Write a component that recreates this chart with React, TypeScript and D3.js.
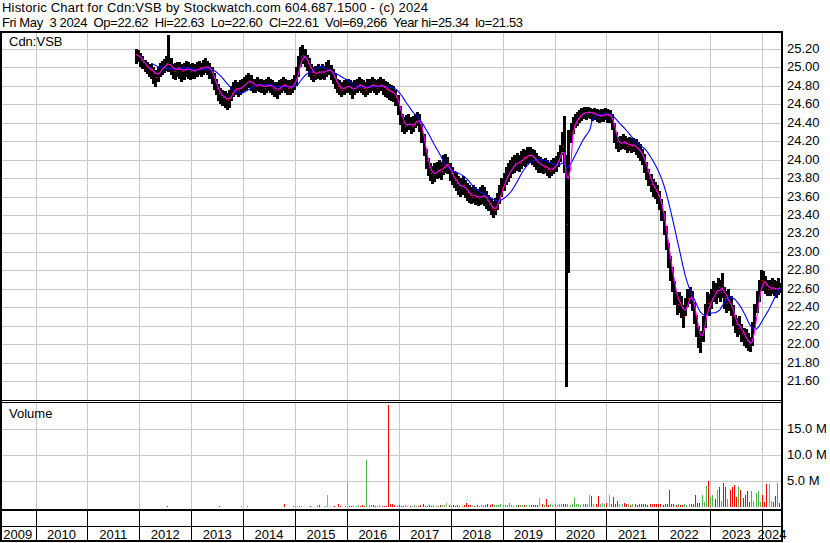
import React from "react";
import * as d3 from "d3";

const FONT = '"Liberation Sans", Arial, Helvetica, sans-serif';

const title1 = "Historic Chart for Cdn:VSB by Stockwatch.com 604.687.1500 - (c) 2024";
const title2 = "Fri May  3 2024  Op=22.62  Hi=22.63  Lo=22.60  Cl=22.61  Vol=69,266  Year hi=25.34  lo=21.53";
const symbolLabel = "Cdn:VSB";
const volumeLabel = "Volume";

const yearLabels = [2009, 2010, 2011, 2012, 2013, 2014, 2015, 2016, 2017, 2018, 2019, 2020, 2021, 2022, 2023, 2024];
const priceTicks = [25.2, 25.0, 24.8, 24.6, 24.4, 24.2, 24.0, 23.8, 23.6, 23.4, 23.2, 23.0, 22.8, 22.6, 22.4, 22.2, 22.0, 21.8, 21.6];
const volumeTicks = [5, 10, 15];

// semi-monthly bars: [close, high, low]; 2011 starts at the Dec 1 slot
const bars2011 = [[25.14, 25.2, 25.04], [25.12, 25.19, 25.06]];
const bars2012 = [
  [25.08, 25.16, 25.0], [25.06, 25.12, 24.98], [25.02, 25.08, 24.95], [25.0, 25.06, 24.93],
  [24.97, 25.04, 24.9], [24.98, 25.04, 24.88], [24.94, 25.0, 24.82], [24.9, 24.97, 24.79],
  [24.94, 25.0, 24.84], [24.98, 25.05, 24.9], [25.0, 25.07, 24.92], [25.02, 25.09, 24.94],
  [25.05, 25.12, 24.96], [25.04, 25.35, 24.95], [25.0, 25.1, 24.92], [24.96, 25.04, 24.88],
  [24.98, 25.05, 24.86], [25.0, 25.06, 24.9], [24.98, 25.06, 24.88], [24.96, 25.04, 24.84],
  [24.97, 25.05, 24.86], [25.0, 25.07, 24.9], [24.98, 25.06, 24.88], [24.96, 25.04, 24.86],
];
const bars2013 = [
  [24.97, 25.05, 24.88], [24.96, 25.04, 24.88], [24.98, 25.06, 24.9], [25.0, 25.07, 24.92],
  [24.98, 25.05, 24.9], [25.0, 25.08, 24.92], [25.02, 25.1, 24.94], [25.0, 25.07, 24.92],
  [24.98, 25.05, 24.88], [24.92, 25.0, 24.82], [24.85, 24.94, 24.76], [24.78, 24.88, 24.7],
  [24.72, 24.82, 24.64], [24.7, 24.78, 24.6], [24.68, 24.76, 24.58], [24.66, 24.74, 24.56],
  [24.65, 24.72, 24.54], [24.67, 24.76, 24.56], [24.72, 24.8, 24.64], [24.76, 24.84, 24.68],
  [24.78, 24.86, 24.7], [24.76, 24.84, 24.68], [24.78, 24.86, 24.7], [24.8, 24.88, 24.72],
];
const bars2014 = [
  [24.82, 24.9, 24.74], [24.84, 24.92, 24.76], [24.86, 24.94, 24.78], [24.84, 24.92, 24.74],
  [24.8, 24.88, 24.72], [24.8, 24.88, 24.72], [24.82, 24.9, 24.74], [24.81, 24.88, 24.73],
  [24.8, 24.88, 24.72], [24.78, 24.86, 24.7], [24.8, 24.88, 24.72], [24.82, 24.9, 24.74],
  [24.8, 24.88, 24.72], [24.78, 24.86, 24.7], [24.76, 24.84, 24.68], [24.76, 24.84, 24.66],
  [24.78, 24.86, 24.7], [24.8, 24.88, 24.72], [24.82, 24.9, 24.74], [24.8, 24.88, 24.72],
  [24.78, 24.86, 24.7], [24.78, 24.86, 24.7], [24.8, 24.88, 24.72], [24.84, 24.92, 24.76],
];
const bars2015 = [
  [24.9, 25.0, 24.8], [25.02, 25.12, 24.9], [25.12, 25.22, 25.0], [25.14, 25.24, 25.04],
  [25.1, 25.2, 25.0], [25.05, 25.14, 24.96], [25.0, 25.1, 24.9], [24.95, 25.04, 24.86],
  [24.92, 25.0, 24.84], [24.94, 25.02, 24.86], [24.96, 25.04, 24.88], [24.94, 25.02, 24.86],
  [24.96, 25.04, 24.88], [24.94, 25.02, 24.86], [24.98, 25.06, 24.9], [24.98, 25.08, 24.92],
  [24.95, 25.03, 24.86], [24.9, 24.98, 24.82], [24.85, 24.94, 24.77], [24.8, 24.88, 24.72],
  [24.78, 24.86, 24.7], [24.76, 24.84, 24.68], [24.78, 24.86, 24.7], [24.8, 24.88, 24.72],
];
const bars2016 = [
  [24.8, 24.88, 24.72], [24.78, 24.86, 24.7], [24.75, 24.84, 24.66], [24.78, 24.86, 24.7],
  [24.8, 24.88, 24.72], [24.82, 24.9, 24.74], [24.8, 24.88, 24.72], [24.78, 24.86, 24.7],
  [24.76, 24.84, 24.68], [24.79, 24.87, 24.7], [24.8, 24.88, 24.72], [24.82, 24.9, 24.74],
  [24.8, 24.88, 24.72], [24.78, 24.86, 24.7], [24.8, 24.88, 24.72], [24.82, 24.9, 24.74],
  [24.79, 24.87, 24.7], [24.77, 24.85, 24.68], [24.76, 24.84, 24.67], [24.74, 24.82, 24.65],
  [24.73, 24.81, 24.64], [24.72, 24.8, 24.62], [24.68, 24.76, 24.58], [24.6, 24.7, 24.48],
];
const bars2017 = [
  [24.48, 24.58, 24.38], [24.4, 24.5, 24.3], [24.36, 24.46, 24.28], [24.38, 24.48, 24.3],
  [24.4, 24.5, 24.32], [24.36, 24.46, 24.28], [24.38, 24.47, 24.3], [24.42, 24.5, 24.34],
  [24.45, 24.52, 24.36], [24.4, 24.5, 24.3], [24.3, 24.4, 24.18], [24.15, 24.28, 24.04],
  [24.0, 24.12, 23.9], [23.92, 24.02, 23.82], [23.86, 23.96, 23.77], [23.83, 23.93, 23.74],
  [23.86, 23.96, 23.76], [23.88, 23.98, 23.79], [23.9, 24.0, 23.8], [23.88, 23.98, 23.78],
  [23.93, 24.05, 23.83], [23.95, 24.06, 23.85], [23.95, 24.03, 23.84], [23.86, 23.96, 23.77],
];
const bars2018 = [
  [23.82, 23.92, 23.72], [23.78, 23.88, 23.69], [23.75, 23.85, 23.66], [23.72, 23.82, 23.62],
  [23.7, 23.8, 23.6], [23.72, 23.82, 23.62], [23.68, 23.78, 23.58], [23.65, 23.75, 23.55],
  [23.62, 23.72, 23.53], [23.6, 23.7, 23.52], [23.62, 23.72, 23.53], [23.6, 23.7, 23.51],
  [23.58, 23.68, 23.5], [23.6, 23.7, 23.51], [23.62, 23.72, 23.52], [23.6, 23.7, 23.5],
  [23.56, 23.66, 23.47], [23.52, 23.62, 23.44], [23.48, 23.58, 23.4], [23.45, 23.55, 23.37],
  [23.48, 23.58, 23.4], [23.55, 23.64, 23.45], [23.62, 23.72, 23.52], [23.7, 23.8, 23.6],
];
const bars2019 = [
  [23.76, 23.86, 23.66], [23.82, 23.92, 23.72], [23.86, 23.96, 23.76], [23.9, 24.0, 23.8],
  [23.93, 24.03, 23.84], [23.96, 24.05, 23.86], [23.98, 24.07, 23.88], [23.96, 24.05, 23.87],
  [24.0, 24.09, 23.9], [24.03, 24.12, 23.93], [24.02, 24.11, 23.92], [24.05, 24.14, 23.95],
  [24.06, 24.14, 23.96], [24.03, 24.12, 23.94], [24.0, 24.1, 23.92], [23.98, 24.07, 23.89],
  [23.95, 24.04, 23.86], [23.95, 24.03, 23.86], [23.92, 24.01, 23.84], [23.93, 24.02, 23.85],
  [23.9, 24.0, 23.82], [23.88, 23.98, 23.8], [23.9, 24.0, 23.82], [23.92, 24.02, 23.84],
];
const bars2020 = [
  [23.95, 24.04, 23.87], [24.0, 24.08, 23.92], [24.08, 24.16, 23.98], [24.15, 24.3, 24.05],
  [24.0, 24.47, 23.85], [23.3, 24.05, 21.53], [24.1, 24.32, 22.77], [24.3, 24.4, 24.18],
  [24.38, 24.46, 24.28], [24.42, 24.5, 24.34], [24.45, 24.52, 24.37], [24.48, 24.54, 24.4],
  [24.5, 24.56, 24.42], [24.52, 24.57, 24.44], [24.5, 24.57, 24.43], [24.52, 24.57, 24.45],
  [24.52, 24.56, 24.44], [24.49, 24.55, 24.42], [24.5, 24.56, 24.43], [24.48, 24.55, 24.41],
  [24.47, 24.54, 24.4], [24.48, 24.55, 24.41], [24.48, 24.55, 24.41], [24.5, 24.56, 24.43],
];
const bars2021 = [
  [24.48, 24.55, 24.4], [24.48, 24.54, 24.4], [24.42, 24.5, 24.32], [24.3, 24.4, 24.18],
  [24.2, 24.3, 24.12], [24.16, 24.25, 24.08], [24.18, 24.26, 24.1], [24.2, 24.28, 24.12],
  [24.18, 24.26, 24.1], [24.15, 24.23, 24.07], [24.17, 24.25, 24.09], [24.15, 24.23, 24.07],
  [24.16, 24.24, 24.08], [24.13, 24.22, 24.05], [24.1, 24.19, 24.02], [24.08, 24.17, 23.99],
  [24.03, 24.12, 23.94], [23.96, 24.06, 23.86], [23.88, 23.98, 23.78], [23.8, 23.9, 23.71],
  [23.74, 23.84, 23.65], [23.7, 23.79, 23.6], [23.66, 23.76, 23.57], [23.62, 23.72, 23.52],
];
const bars2022 = [
  [23.55, 23.66, 23.45], [23.45, 23.57, 23.34], [23.3, 23.44, 23.18], [23.15, 23.28, 23.02],
  [22.95, 23.1, 22.82], [22.82, 22.96, 22.68], [22.7, 22.84, 22.56], [22.55, 22.68, 22.42],
  [22.44, 22.56, 22.32], [22.46, 22.56, 22.34], [22.4, 22.52, 22.28], [22.3, 22.42, 22.18],
  [22.4, 22.5, 22.3], [22.5, 22.6, 22.4], [22.54, 22.62, 22.44], [22.48, 22.58, 22.36],
  [22.34, 22.46, 22.22], [22.2, 22.32, 22.08], [22.08, 22.2, 21.96], [22.02, 22.14, 21.9],
  [22.18, 22.3, 22.02], [22.32, 22.44, 22.18], [22.45, 22.56, 22.32], [22.4, 22.54, 22.3],
];
const bars2023 = [
  [22.5, 22.6, 22.38], [22.58, 22.68, 22.46], [22.55, 22.66, 22.44], [22.62, 22.72, 22.5],
  [22.56, 22.7, 22.46], [22.65, 22.77, 22.5], [22.5, 22.62, 22.38], [22.45, 22.58, 22.34],
  [22.48, 22.6, 22.36], [22.4, 22.52, 22.3], [22.3, 22.42, 22.2], [22.22, 22.32, 22.12],
  [22.18, 22.28, 22.08], [22.2, 22.3, 22.1], [22.12, 22.22, 22.02], [22.08, 22.18, 21.98],
  [22.05, 22.16, 21.96], [22.0, 22.12, 21.92], [21.98, 22.08, 21.91], [22.1, 22.24, 21.98],
  [22.3, 22.44, 22.18], [22.45, 22.58, 22.34], [22.58, 22.7, 22.46], [22.7, 22.8, 22.58],
];
const bars2024 = [
  [22.68, 22.79, 22.58], [22.64, 22.74, 22.54], [22.6, 22.7, 22.52], [22.6, 22.69, 22.52],
  [22.62, 22.72, 22.54], [22.6, 22.7, 22.52], [22.58, 22.68, 22.5], [22.62, 22.72, 22.53],
  [22.61, 22.66, 22.55],
];

// semi-monthly volume, millions of units
const vol2011 = [0.02, 0.02];
const vol2012 = [0.02, 0.01, 0.02, 0.02, 0.01, 0.02, 0.03, 0.02, 0.01, 0.02, 0.02, 0.01, 0.02, 0.25, 0.02, 0.01, 0.02, 0.02, 0.01, 0.02, 0.02, 0.01, 0.02, 0.02];
const vol2013 = [0.02, 0.01, 0.02, 0.02, 0.01, 0.02, 0.02, 0.01, 0.02, 0.03, 0.02, 0.01, 0.02, 0.12, 0.02, 0.01, 0.02, 0.02, 0.01, 0.02, 0.02, 0.02, 0.03, 0.12];
const vol2014 = [0.03, 0.02, 0.1, 0.03, 0.02, 0.03, 0.05, 0.02, 0.03, 0.04, 0.02, 0.03, 0.05, 0.03, 0.02, 0.04, 0.03, 0.05, 0.03, 0.5, 0.04, 0.03, 0.05, 0.1];
const vol2015 = [0.15, 0.1, 0.12, 0.15, 0.05, 0.08, 0.06, 0.1, 0.05, 0.08, 0.1, 0.45, 0.06, 0.08, 0.1, 2.3, 0.05, 0.08, 0.1, 0.06, 0.6, 0.1, 0.08, 0.12];
const vol2016 = [4.9, 0.1, 0.15, 0.1, 0.12, 0.3, 0.25, 0.3, 0.2, 9.0, 0.3, 0.3, 0.3, 0.25, 0.15, 0.3, 0.2, 0.15, 0.2, 19.6, 0.6, 0.6, 0.3, 0.2];
const vol2017 = [0.3, 0.2, 0.25, 0.3, 0.2, 0.15, 0.2, 0.3, 0.25, 0.2, 0.3, 0.5, 0.25, 0.2, 0.3, 0.25, 0.3, 0.2, 0.25, 0.4, 0.3, 0.35, 0.8, 0.3];
const vol2018 = [0.25, 0.3, 0.2, 0.3, 0.25, 0.2, 0.35, 0.7, 0.3, 0.3, 0.25, 0.2, 0.3, 0.25, 0.3, 0.2, 0.3, 0.5, 0.3, 0.5, 0.35, 0.3, 0.3, 0.6];
const vol2019 = [0.3, 0.3, 0.35, 0.7, 0.3, 0.25, 0.3, 0.4, 0.3, 0.35, 0.3, 0.4, 0.35, 0.3, 0.4, 0.3, 0.35, 1.7, 0.5, 0.4, 1.6, 0.45, 0.6, 0.4];
const vol2020 = [0.5, 0.4, 0.5, 0.6, 0.5, 0.6, 0.5, 0.4, 0.5, 1.7, 0.5, 0.6, 0.4, 0.5, 0.6, 0.5, 2.3, 2.2, 0.5, 0.6, 2.1, 0.5, 0.8, 0.6];
const vol2021 = [0.7, 2.3, 0.6, 2.0, 0.5, 1.2, 0.6, 0.5, 0.8, 0.6, 0.5, 0.4, 0.6, 0.5, 0.4, 0.5, 0.6, 0.6, 0.5, 0.4, 0.5, 0.5, 0.6, 0.5];
const vol2022 = [0.5, 0.6, 0.4, 0.5, 0.6, 3.3, 0.5, 0.5, 0.4, 0.5, 0.4, 0.3, 0.5, 0.4, 0.5, 0.6, 0.5, 2.3, 0.8, 0.7, 2.3, 1.0, 4.0, 5.0];
const vol2023 = [2.0, 2.3, 1.5, 3.3, 3.8, 1.2, 4.6, 3.8, 1.5, 3.3, 3.8, 4.2, 2.0, 4.1, 3.3, 1.8, 2.3, 3.0, 1.0, 3.0, 1.2, 2.6, 3.0, 1.0];
const vol2024 = [2.3, 1.0, 4.5, 4.5, 1.2, 1.0, 2.2, 4.7, 0.7];

const priceByYear = [bars2011, bars2012, bars2013, bars2014, bars2015, bars2016, bars2017, bars2018, bars2019, bars2020, bars2021, bars2022, bars2023, bars2024];
const volByYear = [vol2011, vol2012, vol2013, vol2014, vol2015, vol2016, vol2017, vol2018, vol2019, vol2020, vol2021, vol2022, vol2023, vol2024];
const firstDataYear = 2011;
const firstSlot2011 = 22;

type Pt = { t: number; c: number; h: number; l: number; v: number };

function buildData(): Pt[] {
  const out: Pt[] = [];
  priceByYear.forEach((arr, yi) => {
    const year = firstDataYear + yi;
    const slot0 = yi === 0 ? firstSlot2011 : 0;
    arr.forEach((b, k) => {
      out.push({ t: year + (slot0 + k) / 24, c: b[0], h: b[1], l: b[2], v: volByYear[yi][k] });
    });
  });
  return out;
}

function sma(vals: number[], n: number, start: number): (number | null)[] {
  return vals.map((_, i) => (i < start ? null : (d3.mean(vals.slice(Math.max(0, i - n + 1), i + 1)) as number)));
}

export default function App() {
  const data = buildData();
  const x = d3.scaleLinear().domain([2010, 2024]).range([35.5, 762.1]);
  const yP = d3.scaleLinear().domain([21.6, 25.2]).range([381, 49]);
  const yV = d3.scaleLinear().domain([0, 15]).range([507, 429]);
  const left = 2;
  const right = 781;

  const closes = data.map((d) => d.c);
  const fast = sma(closes, 3, 0);
  const slow = sma(closes, 12, 7);
  const mkLine = (vals: (number | null)[]) =>
    d3
      .line<number | null>()
      .defined((v) => v != null)
      .x((_, i) => x(data[i].t) + 1)
      .y((v) => yP(v as number))(vals) || "";

  const gridColor = "#c8c8c8";
  const boundaries = yearLabels.slice(1);

  const volColor = (i: number) => {
    if (i === 0) return "#a0a0a0";
    const d = data[i].c - data[i - 1].c;
    if (Math.abs(d) < 1e-9) return "#a0a0a0";
    return d > 0 ? "#4cb84c" : "#ff0000";
  };

  return (
    <svg
      width={830}
      height={543}
      style={{ position: "absolute", left: 0, top: 0, background: "#fff" }}
      fontFamily={FONT}
      fontSize={13}
    >
      <rect x={0} y={0} width={830} height={543} fill="#fff" />
      {/* header */}
      <text x={2} y={12} fill="#000" textLength={426} lengthAdjust="spacing" style={{ whiteSpace: "pre" }}>{title1}</text>
      <text x={2} y={27} fill="#000" textLength={521} lengthAdjust="spacing" style={{ whiteSpace: "pre" }}>{title2}</text>

      {/* grids */}
      <g shapeRendering="crispEdges" stroke={gridColor} strokeWidth={1}>
        {priceTicks.map((p) => (
          <line key={"pg" + p} x1={left} x2={right} y1={Math.round(yP(p)) + 0.5} y2={Math.round(yP(p)) + 0.5} />
        ))}
        {volumeTicks.map((v) => (
          <line key={"vg" + v} x1={left} x2={right} y1={Math.round(yV(v)) + 0.5} y2={Math.round(yV(v)) + 0.5} />
        ))}
        {boundaries.map((yr) => (
          <g key={"vgx" + yr}>
            <line x1={Math.round(x(yr)) + 0.5} x2={Math.round(x(yr)) + 0.5} y1={33} y2={400} />
            <line x1={Math.round(x(yr)) + 0.5} x2={Math.round(x(yr)) + 0.5} y1={403} y2={509} />
          </g>
        ))}
      </g>

      {/* price bars */}
      <g shapeRendering="crispEdges">
        {data.map((d, i) => (
          <rect key={"b" + i} x={Math.round(x(d.t))} width={3} y={Math.round(yP(d.h))} height={Math.max(1, Math.round(yP(d.l)) - Math.round(yP(d.h)))} fill="#000" />
        ))}
        {data.map((d, i) => (
          <rect key={"c" + i} x={Math.round(x(d.t)) + 2} width={1} y={Math.round(yP(d.c))} height={1} fill="#ff0000" />
        ))}
      </g>
      <path d={mkLine(slow)} fill="none" stroke="#0000ff" strokeWidth={1.1} />
      <path d={mkLine(fast)} fill="none" stroke="#ff00ff" strokeWidth={1.1} />

      {/* volume bars */}
      <g shapeRendering="crispEdges">
        {data.map((d, i) => {
          const top = yV(Math.min(d.v, 20));
          const h = 507 - top;
          if (h < 0.5) return null;
          return <rect key={"v" + i} x={Math.round(x(d.t))} width={1} y={top} height={h} fill={volColor(i)} />;
        })}
      </g>

      {/* borders */}
      <g shapeRendering="crispEdges" fill="#000">
        <rect x={0} y={31} width={783} height={2} />
        <rect x={0} y={31} width={2} height={511} />
        <rect x={781} y={31} width={2} height={511} />
        <rect x={0} y={400} width={783} height={1} />
        <rect x={0} y={402} width={783} height={1} />
        <rect x={0} y={509} width={783} height={2} />
        <rect x={0} y={526} width={783} height={1} />
        <rect x={0} y={540} width={783} height={2} />
        {boundaries.map((yr) => (
          <rect key={"sep" + yr} x={Math.round(x(yr))} y={511} width={1} height={29} />
        ))}
      </g>

      {/* labels */}
      <text x={9} y={46} fill="#000">{symbolLabel}</text>
      <text x={9} y={418} fill="#000">{volumeLabel}</text>
      {priceTicks.map((p) => (
        <text key={"pl" + p} x={787} y={yP(p) + 4} fill="#000">{p.toFixed(2)}</text>
      ))}
      {volumeTicks.map((v) => (
        <text key={"vl" + v} x={787} y={yV(v) + 3.5} fill="#000">{v.toFixed(1) + " M"}</text>
      ))}
      {yearLabels.map((yr) => {
        const a = Math.max(x(yr), 0);
        const b = Math.min(x(yr + 1), right + 1);
        return (
          <text key={"yl" + yr} x={(a + b) / 2} y={538.5} textAnchor="middle" fill="#000">{yr}</text>
        );
      })}
    </svg>
  );
}
